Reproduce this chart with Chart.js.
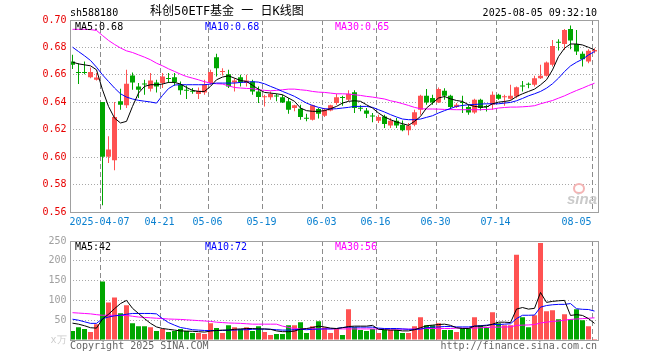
<!DOCTYPE html>
<html>
<head>
<meta charset="utf-8">
<script src="https://cdn.jsdelivr.net/npm/chart.js@4.4.1/dist/chart.umd.min.js"></script>
<style>
  body { margin: 0; background: #fff; }
  #wrap { position: relative; width: 660px; height: 360px; font-family: "DejaVu Sans Mono", monospace; font-size: 10px; line-height: 10px; }
  #wrap canvas { position: absolute; left: 0; }
  .t { position: absolute; white-space: pre; }
</style>
</head>
<body>
<div id="wrap">
  <canvas id="priceChart" width="660" height="232" style="top:0"></canvas>
  <canvas id="volChart" width="660" height="128" style="top:232px"></canvas>

  <div class="t" style="left:70px;top:8px">sh588180</div>
  <div class="t" style="left:150px;top:5px;font-size:12px;line-height:12px;font-family:'DejaVu Sans Mono','Noto Sans CJK SC'">科创50ETF基金 一 日K线图</div>
  <div class="t" style="right:63px;top:8px">2025-08-05 09:32:10</div>

  <div class="t" style="left:75px;top:21.5px;color:#000">MA5:0.68</div>
  <div class="t" style="left:205px;top:21.5px;color:#0000ff">MA10:0.68</div>
  <div class="t" style="left:335px;top:21.5px;color:#ff00ff">MA30:0.65</div>

  <div class="t" style="left:75px;top:241.5px;color:#000">MA5:42</div>
  <div class="t" style="left:205px;top:241.5px;color:#0000ff">MA10:72</div>
  <div class="t" style="left:335px;top:241.5px;color:#ff00ff">MA30:56</div>

  <div class="t" style="left:70px;top:340.5px;color:#666">Copyright 2025 SINA.COM</div>
  <div class="t" style="right:63px;top:340.5px;color:#666">http://finance.sina.com.cn</div>

  <div style="position:absolute;left:573px;top:183px;width:8px;height:7px;border:2px solid #f4b4b4;border-radius:50%"></div>
  <div class="t" style="left:567px;top:190px;font:italic bold 15px 'Liberation Sans',sans-serif;color:#cacaca">sina</div>
</div>
<script>
// trading days shown on the chart
const dates = [
  '2025-03-28','2025-03-31','2025-04-01','2025-04-02','2025-04-03','2025-04-07','2025-04-08','2025-04-09','2025-04-10','2025-04-11',
  '2025-04-14','2025-04-15','2025-04-16','2025-04-17','2025-04-18','2025-04-21','2025-04-22','2025-04-23','2025-04-24','2025-04-25',
  '2025-04-28','2025-04-29','2025-04-30','2025-05-06','2025-05-07','2025-05-08','2025-05-09','2025-05-12','2025-05-13','2025-05-14',
  '2025-05-15','2025-05-16','2025-05-19','2025-05-20','2025-05-21','2025-05-22','2025-05-23','2025-05-26','2025-05-27','2025-05-28',
  '2025-05-29','2025-05-30','2025-06-03','2025-06-04','2025-06-05','2025-06-06','2025-06-09','2025-06-10','2025-06-11','2025-06-12',
  '2025-06-13','2025-06-16','2025-06-17','2025-06-18','2025-06-19','2025-06-20','2025-06-23','2025-06-24','2025-06-25','2025-06-26',
  '2025-06-27','2025-06-30','2025-07-01','2025-07-02','2025-07-03','2025-07-04','2025-07-07','2025-07-08','2025-07-09','2025-07-10',
  '2025-07-11','2025-07-14','2025-07-15','2025-07-16','2025-07-17','2025-07-18','2025-07-21','2025-07-22','2025-07-23','2025-07-24',
  '2025-07-25','2025-07-28','2025-07-29','2025-07-30','2025-07-31','2025-08-01','2025-08-04','2025-08-05'
];

const tickDates = ['2025-04-07','2025-04-21','2025-05-06','2025-05-19','2025-06-03','2025-06-16','2025-06-30','2025-07-14','2025-08-05'];

const openPx = [
  0.6697,0.6618,0.6618,0.6583,0.6564,0.6402,0.6002,0.5978,0.6407,0.6378,
  0.6596,0.6516,0.6535,0.6499,0.6545,0.6540,0.6576,0.6583,0.6528,0.6488,
  0.6479,0.6460,0.6472,0.6540,0.6729,0.6620,0.6605,0.6545,0.6583,0.6540,
  0.6552,0.6479,0.6436,0.6436,0.6446,0.6436,0.6407,0.6358,0.6353,0.6283,
  0.6273,0.6351,0.6302,0.6341,0.6394,0.6433,0.6419,0.6474,0.6356,0.6341,
  0.6300,0.6266,0.6297,0.6230,0.6266,0.6237,0.6196,0.6237,0.6346,0.6448,
  0.6431,0.6399,0.6484,0.6447,0.6365,0.6396,0.6365,0.6326,0.6418,0.6367,
  0.6382,0.6455,0.6436,0.6426,0.6442,0.6517,0.6529,0.6527,0.6576,0.6593,
  0.6673,0.6837,0.6825,0.6935,0.6825,0.6753,0.6697,0.6770
];
const highPx = [
  0.6746,0.6685,0.6697,0.6654,0.6613,0.6402,0.6152,0.6402,0.6499,0.6637,
  0.6617,0.6540,0.6564,0.6613,0.6564,0.6613,0.6613,0.6613,0.6552,0.6523,
  0.6504,0.6508,0.6564,0.6637,0.6753,0.6649,0.6637,0.6576,0.6600,0.6600,
  0.6564,0.6516,0.6455,0.6479,0.6462,0.6455,0.6431,0.6382,0.6382,0.6317,
  0.6382,0.6358,0.6358,0.6382,0.6462,0.6448,0.6487,0.6487,0.6378,0.6358,
  0.6322,0.6310,0.6310,0.6285,0.6285,0.6268,0.6249,0.6346,0.6455,0.6496,
  0.6455,0.6508,0.6503,0.6455,0.6394,0.6447,0.6382,0.6426,0.6426,0.6382,
  0.6479,0.6462,0.6455,0.6527,0.6515,0.6556,0.6544,0.6593,0.6673,0.6697,
  0.6855,0.6859,0.6935,0.6959,0.6927,0.6770,0.6787,0.6794
];
const lowPx = [
  0.6642,0.6533,0.6605,0.6576,0.6559,0.5650,0.5958,0.5905,0.6346,0.6358,
  0.6491,0.6431,0.6455,0.6479,0.6472,0.6504,0.6540,0.6520,0.6455,0.6424,
  0.6462,0.6424,0.6455,0.6528,0.6588,0.6596,0.6504,0.6479,0.6516,0.6516,
  0.6455,0.6394,0.6370,0.6419,0.6407,0.6394,0.6317,0.6334,0.6273,0.6261,
  0.6268,0.6281,0.6293,0.6334,0.6382,0.6375,0.6407,0.6322,0.6334,0.6285,
  0.6254,0.6249,0.6213,0.6213,0.6213,0.6188,0.6159,0.6225,0.6310,0.6382,
  0.6382,0.6394,0.6418,0.6350,0.6358,0.6321,0.6309,0.6316,0.6341,0.6333,
  0.6346,0.6418,0.6375,0.6418,0.6430,0.6479,0.6503,0.6515,0.6569,0.6588,
  0.6661,0.6777,0.6782,0.6787,0.6745,0.6661,0.6685,0.6758
];
const closePx = [
  0.6673,0.6613,0.6613,0.6620,0.6581,0.6002,0.6055,0.6293,0.6382,0.6535,
  0.6545,0.6491,0.6530,0.6559,0.6516,0.6588,0.6570,0.6547,0.6487,0.6484,
  0.6476,0.6484,0.6528,0.6620,0.6649,0.6624,0.6516,0.6559,0.6545,0.6559,
  0.6479,0.6438,0.6440,0.6460,0.6443,0.6399,0.6346,0.6378,0.6293,0.6280,
  0.6378,0.6317,0.6346,0.6378,0.6436,0.6431,0.6462,0.6358,0.6353,0.6317,
  0.6297,0.6293,0.6242,0.6266,0.6230,0.6196,0.6230,0.6327,0.6448,0.6399,
  0.6399,0.6496,0.6447,0.6365,0.6382,0.6394,0.6326,0.6418,0.6358,0.6365,
  0.6455,0.6426,0.6438,0.6447,0.6510,0.6515,0.6527,0.6576,0.6593,0.6690,
  0.6811,0.6835,0.6927,0.6850,0.6770,0.6714,0.6775,0.6782
];

const ma5 = [
  0.6693,0.6680,0.6673,0.6666,0.6637,0.6491,0.6370,0.6285,0.6249,0.6261,
  0.6370,0.6467,0.6516,0.6528,0.6528,0.6533,0.6545,0.6545,0.6533,0.6508,
  0.6487,0.6479,0.6479,0.6516,0.6564,0.6584,0.6593,0.6576,0.6559,0.6552,
  0.6524,0.6495,0.6472,0.6467,0.6462,0.6455,0.6431,0.6407,0.6358,0.6339,
  0.6334,0.6334,0.6339,0.6353,0.6370,0.6394,0.6407,0.6411,0.6407,0.6382,
  0.6358,0.6322,0.6293,0.6273,0.6256,0.6244,0.6232,0.6261,0.6297,0.6358,
  0.6394,0.6431,0.6442,0.6425,0.6413,0.6406,0.6382,0.6370,0.6365,0.6365,
  0.6389,0.6401,0.6406,0.6413,0.6442,0.6462,0.6479,0.6496,0.6527,0.6564,
  0.6636,0.6733,0.6794,0.6825,0.6825,0.6818,0.6801,0.6782
];
const ma10 = [
  0.6802,0.6770,0.6739,0.6705,0.6656,0.6600,0.6552,0.6504,0.6462,0.6438,
  0.6424,0.6414,0.6408,0.6402,0.6394,0.6450,0.6500,0.6526,0.6528,0.6528,
  0.6528,0.6528,0.6528,0.6533,0.6540,0.6540,0.6540,0.6540,0.6545,0.6547,
  0.6550,0.6547,0.6535,0.6516,0.6499,0.6479,0.6462,0.6443,0.6419,0.6394,
  0.6377,0.6363,0.6353,0.6351,0.6353,0.6358,0.6363,0.6370,0.6370,0.6370,
  0.6363,0.6346,0.6329,0.6310,0.6293,0.6278,0.6273,0.6273,0.6278,0.6290,
  0.6302,0.6322,0.6339,0.6355,0.6370,0.6377,0.6382,0.6384,0.6387,0.6389,
  0.6389,0.6389,0.6394,0.6399,0.6411,0.6428,0.6447,0.6462,0.6479,0.6503,
  0.6535,0.6576,0.6624,0.6665,0.6692,0.6714,0.6745,0.6770
];
const ma30 = [
  0.6932,0.6932,0.6932,0.6930,0.6924,0.6887,0.6851,0.6822,0.6796,0.6775,
  0.6763,0.6746,0.6729,0.6710,0.6685,0.6666,0.6644,0.6625,0.6605,0.6588,
  0.6576,0.6564,0.6550,0.6540,0.6535,0.6533,0.6520,0.6508,0.6504,0.6501,
  0.6499,0.6491,0.6487,0.6484,0.6487,0.6491,0.6496,0.6496,0.6491,0.6487,
  0.6479,0.6474,0.6472,0.6467,0.6462,0.6462,0.6460,0.6455,0.6450,0.6443,
  0.6438,0.6431,0.6424,0.6411,0.6402,0.6390,0.6377,0.6363,0.6353,0.6351,
  0.6351,0.6350,0.6348,0.6347,0.6346,0.6346,0.6346,0.6346,0.6346,0.6348,
  0.6350,0.6358,0.6362,0.6365,0.6365,0.6367,0.6370,0.6375,0.6389,0.6401,
  0.6413,0.6430,0.6447,0.6467,0.6486,0.6503,0.6522,0.6539
];

// volume, unit: 万
const volume = [
  22.5,32.5,27.5,20,40,147.5,95,107.5,67.5,87.5,
  42.5,35,35,32.5,22.5,27.5,20,22.5,27.5,22.5,
  17.5,17.5,15,42.5,30,17.5,37.5,32.5,27.5,32.5,
  22.5,35,20,12.5,15,15,37.5,37.5,45,17.5,
  35,47.5,32.5,17.5,27.5,12.5,77.5,32.5,25,22.5,
  27.5,17.5,25,25,25,17.5,17.5,35,57.5,37.5,
  37.5,42.5,25,25,20,30,30,57.5,37.5,32.5,
  70,42.5,37.5,37.5,215,57.5,32.5,62.5,245,72.5,
  75,52.5,65,52.5,77.5,50,35,2.5
];
const volMa5 = [
  42.5,40,36,31,30,53,65,79,92,100,
  80,67,54,42,33,29,27,25,23,22.5,
  22,21,20,22.5,24,25,25,27,28,29,
  29,28,28,27,23,21,21,22.5,27.5,29,
  31.5,35,33,30,29,31,34,35,35,35,
  37,27,26,25,25,23,23,26,31,36,
  37.5,39,40,37,31,29,29,35,35,36,
  40,45,45,44,78,82,78,80,120,95,
  97.5,99,100,62,64,62,54,42
];
const volMa10 = [
  52.5,50,46,42,42,54,58,61,62.5,65,
  67,67,67,67,66,54,44,37.5,31.5,29,
  26,25,24,24,24,24,25,25,26,26,
  27,27.5,27.5,27,26,25,25,26,27,26,
  27,27.5,28,28,29,31.5,32.5,32.5,32.5,32.5,
  32.5,30,29,29,29,28,27,27,27.5,31,
  32.5,33,34,34,33,33,33,35,36,37.5,
  39,39,40,41,54,62.5,62.5,63,83,87,
  89,90,90,92,79,77.5,77,73
];
const volMa30 = [
  69,68,67,66,64,62.5,62.5,62.5,62,62,
  60,58,57,56,55,54,53,52.5,52,51,
  50,49,48,47,45,44,43,42.5,42,41,
  40,40,40,40,40,35,32,28.5,28,28,
  28,28,28,28,28,28,28,28,28,28,
  28,27.5,27.5,27.5,27.5,27.5,27.5,27.5,28,29,
  29,29,29,29,30,30,30,30,31,31.5,
  32.5,32.5,33,33,37,37.5,38,39,43,45,
  47,48,50,52,53,54,55,56
];

const UP = '#ff5252';
const DOWN = '#00a600';
const candleColor = closePx.map((c, i) => c >= openPx[i] ? UP : DOWN);
const tickIdx = tickDates.map(d => dates.indexOf(d));

Chart.defaults.font.family = "'DejaVu Sans Mono', monospace";
Chart.defaults.font.size = 10;

// dashed lines at the left edge of each labelled day, behind the bars
const dateLinesPlugin = {
    id: 'dateLines',
    beforeDatasetsDraw(chart) {
        const { ctx, chartArea: a } = chart;
        const x = chart.scales.x;
        const slot = (a.right - a.left) / dates.length;
        ctx.save();
        ctx.strokeStyle = '#8c8c8c';
        ctx.lineWidth = 1;
        ctx.setLineDash([5, 3]);
        for (const i of tickIdx) {
            const px = Math.round(x.getPixelForValue(i) - slot / 2) + 0.5;
            ctx.beginPath();
            ctx.moveTo(px, a.top);
            ctx.lineTo(px, a.bottom);
            ctx.stroke();
        }
        ctx.restore();
    }
};

// plot frame
const framePlugin = {
    id: 'frame',
    afterDraw(chart) {
        const { ctx, chartArea: a } = chart;
        const l = Math.round(a.left) + 0.5, r = Math.round(a.right) + 0.5;
        const t = Math.round(a.top) + 0.5, b = Math.round(a.bottom) + 0.5;
        ctx.save();
        ctx.strokeStyle = '#a0a0a0';
        ctx.lineWidth = 1;
        ctx.strokeRect(l, t, r - l, b - t);
        ctx.restore();
    }
};

function xScale(withLabels) {
    return {
        type: 'category',
        offset: true,
        grid: { display: false, drawTicks: false },
        border: { display: false },
        ticks: {
            display: withLabels,
            autoSkip: false,
            maxRotation: 0,
            minRotation: 0,
            align: 'inner',
            labelOffset: -3,
            padding: 4,
            color: '#0a80d0',
            callback: (v, i) => {
                const k = tickDates.indexOf(dates[i]);
                if (k < 0) return '';
                return k === 0 ? dates[i] : dates[i].slice(5);
            }
        },
        afterFit: s => { s.height = 20; }
    };
}

const baseOptions = {
    responsive: false,
    animation: false,
    devicePixelRatio: 1,
    plugins: { legend: { display: false }, tooltip: { enabled: false } }
};

// K line chart
new Chart(document.getElementById('priceChart'), {
    type: 'bar',
    data: {
        labels: dates,
        datasets: [
            { type: 'line', data: ma5, borderColor: '#000', borderWidth: 1, pointRadius: 0, order: 0 },
            { type: 'line', data: ma10, borderColor: '#0000ff', borderWidth: 1, pointRadius: 0, order: 0 },
            { type: 'line', data: ma30, borderColor: '#ff00ff', borderWidth: 1, pointRadius: 0, order: 0 },
            {
                data: openPx.map((o, i) => [o, closePx[i]]),
                backgroundColor: candleColor,
                barThickness: 5, grouped: false, minBarLength: 1, inflateAmount: 0, order: 1
            },
            {
                data: lowPx.map((l, i) => [l, highPx[i]]),
                backgroundColor: candleColor,
                barThickness: 1, grouped: false, inflateAmount: 0, order: 2
            }
        ]
    },
    options: {
        ...baseOptions,
        layout: { padding: { top: 20, right: 62.5, left: 0, bottom: 0 } },
        scales: {
            x: xScale(true),
            y: {
                min: 0.56,
                max: 0.70,
                ticks: { stepSize: 0.02, color: '#e80000', padding: 3, callback: v => v.toFixed(2) },
                grid: { color: '#a8a8a8', drawTicks: false },
                border: { display: false, dash: [1, 2] },
                afterFit: s => { s.width = 69.5; }
            }
        }
    },
    plugins: [dateLinesPlugin, framePlugin]
});

// volume chart
new Chart(document.getElementById('volChart'), {
    type: 'bar',
    data: {
        labels: dates,
        datasets: [
            { type: 'line', data: volMa5, borderColor: '#000', borderWidth: 1, pointRadius: 0, order: 0 },
            { type: 'line', data: volMa10, borderColor: '#0000ff', borderWidth: 1, pointRadius: 0, order: 0 },
            { type: 'line', data: volMa30, borderColor: '#ff00ff', borderWidth: 1, pointRadius: 0, order: 0 },
            {
                data: volume,
                backgroundColor: candleColor,
                barThickness: 5, grouped: false, inflateAmount: 0, order: 1
            }
        ]
    },
    options: {
        ...baseOptions,
        layout: { padding: { top: 8, right: 62.5, left: 0, bottom: 0 } },
        scales: {
            x: xScale(false),
            y: {
                min: 0,
                max: 250,
                ticks: {
                    stepSize: 50,
                    padding: 3,
                    color: c => c.tick && c.tick.value === 0 ? '#cccccc' : '#a0a0a0',
                    callback: v => v === 0 ? 'x万' : v
                },
                grid: { color: '#a8a8a8', drawTicks: false },
                border: { display: false, dash: [1, 2] },
                afterFit: s => { s.width = 69.5; }
            }
        }
    },
    plugins: [dateLinesPlugin, framePlugin]
});
</script>
</body>
</html>
